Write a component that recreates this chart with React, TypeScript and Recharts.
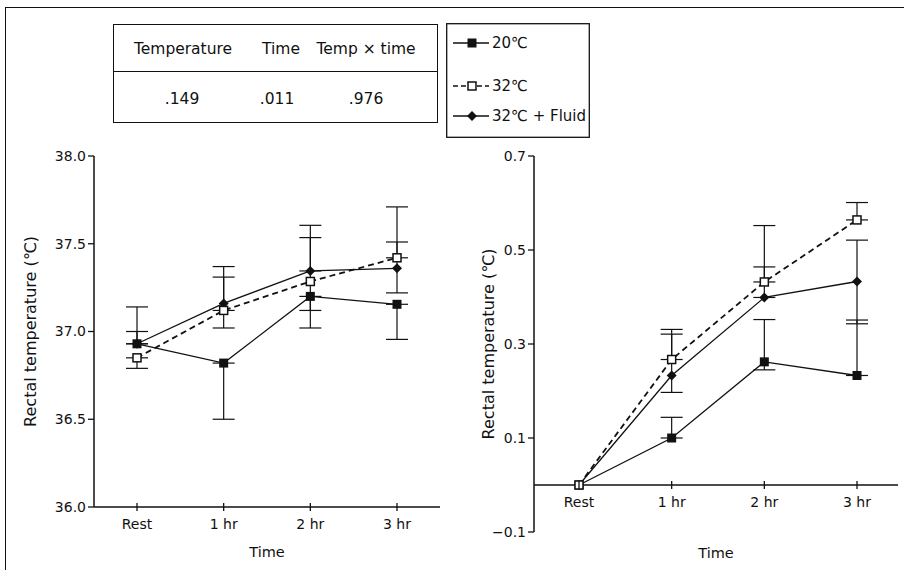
import React from "react";
import { LineChart, Line, XAxis, YAxis, ErrorBar, ReferenceLine } from "recharts";

const times = ["Rest", "1 hr", "2 hr", "3 hr"];

// left panel: rectal temperature (℃), with [down, up] error per point
const abs20 = [36.93, 36.82, 37.2, 37.155];
const abs20Err = [[0, 0.07], [0.32, 0], [0.18, 0], [0.2, 0]];
const abs32 = [36.85, 37.12, 37.285, 37.42];
const abs32Err = [[0.06, 0], [0, 0.19], [0.165, 0.25], [0, 0.29]];
const absFluid = [36.93, 37.16, 37.345, 37.36];
const absFluidErr = [[0, 0.21], [0.14, 0.21], [0, 0.26], [0.14, 0.15]];
const absTicks = [36.0, 36.5, 37.0, 37.5, 38.0];

// right panel: change in rectal temperature (℃)
const d20 = [0, 0.1, 0.262, 0.233];
const d20Err = [null, [0, 0.044], [0.017, 0.09], [0, 0.118]];
const d32 = [0, 0.267, 0.432, 0.564];
const d32Err = [null, [0, 0.064], [0, 0.12], [0, 0.037]];
const dFluid = [0, 0.233, 0.399, 0.433];
const dFluidErr = [null, [0.036, 0.088], [0, 0.065], [0.09, 0.088]];
const dTicks = [-0.1, 0.1, 0.3, 0.5, 0.7];

// ANOVA p values shown in the top table
const pHeaders = ["Temperature", "Time", "Temp \u00d7 time"];
const pValues = [".149", ".011", ".976"];

const seriesNames = ["20\u2103", "32\u2103", "32\u2103 + Fluid"];

const FONT = "'DejaVu Sans', sans-serif";
const INK = "#111";

const absRows = times.map((t, i) => ({
  time: t,
  s20: abs20[i], e20: abs20Err[i],
  s32: abs32[i], e32: abs32Err[i],
  sF: absFluid[i], eF: absFluidErr[i],
}));

const dRows = times.map((t, i) => ({
  time: t,
  s20: d20[i], e20: d20Err[i],
  s32: d32[i], e32: d32Err[i],
  sF: dFluid[i], eF: dFluidErr[i],
}));

function FilledSquare(p: any) {
  if (p.cx == null || p.cy == null) return <g key={p.key} />;
  return <rect key={p.key} x={p.cx - 4.5} y={p.cy - 4.5} width={9} height={9} fill={INK} />;
}

function OpenSquare(p: any) {
  if (p.cx == null || p.cy == null) return <g key={p.key} />;
  return (
    <rect key={p.key} x={p.cx - 4} y={p.cy - 4} width={8} height={8} fill="#fff" stroke={INK} strokeWidth={1.5} />
  );
}

function Diamond(p: any) {
  if (p.cx == null || p.cy == null) return <g key={p.key} />;
  const { cx, cy } = p;
  return (
    <polygon key={p.key} points={`${cx},${cy - 5} ${cx + 5},${cy} ${cx},${cy + 5} ${cx - 5},${cy}`} fill={INK} />
  );
}

// x tick drawn as a small cross mark on the axis line, label below it
function makeTick(shift: number) {
  return (p: any) => {
    const y0 = p.y - shift;
    return (
      <g>
        <line x1={p.x} x2={p.x} y1={y0 - 4} y2={y0 + 4} stroke={INK} strokeWidth={1.3} />
        <text x={p.x} y={y0 + 17} textAnchor="middle" dominantBaseline="central" fontSize={14} fill={INK} fontFamily={FONT}>
          {p.payload.value}
        </text>
      </g>
    );
  };
}

function yLabel(dx: number) {
  return (p: any) => {
    const vb = p.viewBox;
    const x = vb.x + dx;
    const y = vb.y + vb.height / 2;
    return (
      <text x={x} y={y} transform={`rotate(-90 ${x} ${y})`} textAnchor="middle" dominantBaseline="central" fontSize={16} fill={INK} fontFamily={FONT}>
        Rectal temperature (℃)
      </text>
    );
  };
}

const tickStyle = { fontSize: 14, fill: INK, fontFamily: FONT };
const timeLabelStyle = { fontSize: 14.5, fill: INK, fontFamily: FONT };

const D_PLOT_H = 376;
const D_MIN = -0.1;
const D_MAX = 0.7;

export default function App() {
  const zeroShift = (D_PLOT_H * (0 - D_MIN)) / (D_MAX - D_MIN);
  const lines = [
    { key: "sF", err: "eF", dash: undefined, w: 1.3, dot: Diamond },
    { key: "s20", err: "e20", dash: undefined, w: 1.3, dot: FilledSquare },
    { key: "s32", err: "e32", dash: "6 4", w: 1.8, dot: OpenSquare },
  ];
  const renderLines = () =>
    lines.map((l) => (
      <Line
        key={l.key}
        type="linear"
        dataKey={l.key}
        stroke={INK}
        strokeWidth={l.w}
        strokeDasharray={l.dash}
        dot={l.dot}
        activeDot={false}
        isAnimationActive={false}
      >
        <ErrorBar dataKey={l.err} width={11} stroke={INK} strokeWidth={1.2} direction="y" isAnimationActive={false} />
      </Line>
    ));

  return (
    <div style={{ position: "absolute", left: 0, top: 0, width: 904, height: 570, background: "#fff", fontFamily: FONT, color: INK, overflow: "hidden" }}>
      <div style={{ position: "absolute", left: 5, top: 7, width: 899, height: 0, borderTop: `1.5px solid ${INK}` }} />
      <div style={{ position: "absolute", left: 5, top: 7, width: 0, height: 563, borderLeft: `1.5px solid ${INK}` }} />

      {/* p-value table */}
      <div style={{ position: "absolute", left: 113, top: 24, width: 323, height: 97, border: `1.3px solid ${INK}` }}>
        <div style={{ position: "absolute", left: 0, top: 46, width: 323, borderTop: `1.3px solid ${INK}` }} />
        {pHeaders.map((h, i) => (
          <span key={h} style={{ position: "absolute", left: [69, 167, 252][i], top: 24, transform: "translate(-50%,-50%)", fontSize: 15.5, whiteSpace: "nowrap" }}>
            {h}
          </span>
        ))}
        {pValues.map((v, i) => (
          <span key={v} style={{ position: "absolute", left: [68, 163, 252][i], top: 74, transform: "translate(-50%,-50%)", fontSize: 15.5 }}>
            {v}
          </span>
        ))}
      </div>

      {/* legend */}
      <svg style={{ position: "absolute", left: 446, top: 23 }} width={144} height={115}>
        <rect x={0.7} y={0.7} width={142.6} height={113.6} fill="none" stroke={INK} strokeWidth={1.3} />
        {seriesNames.map((n, i) => {
          const y = [20, 63, 93][i];
          const dots = [FilledSquare, OpenSquare, Diamond];
          const D = dots[i];
          return (
            <g key={n}>
              <line x1={7} x2={43} y1={y} y2={y} stroke={INK} strokeWidth={i === 1 ? 1.6 : 1.3} strokeDasharray={i === 1 ? "5 3" : undefined} />
              <D cx={26} cy={y} />
              <text x={46} y={y} dominantBaseline="central" fontSize={15} fill={INK} fontFamily={FONT}>
                {n}
              </text>
            </g>
          );
        })}
      </svg>

      {/* left panel */}
      <div style={{ position: "absolute", left: 0, top: 0 }}>
        <LineChart width={460} height={570} data={absRows} margin={{ top: 156, right: 20, bottom: 8, left: 34 }}>
          <XAxis
            dataKey="time"
            height={55}
            interval={0}
            padding={{ left: 43, right: 43 }}
            tickSize={0}
            tickMargin={0}
            tickLine={false}
            axisLine={{ stroke: INK, strokeWidth: 1.5 }}
            tick={makeTick(0)}
            label={{ value: "Time", position: "insideBottom", offset: 5, style: timeLabelStyle }}
          />
          <YAxis
            type="number"
            domain={[36, 38]}
            ticks={absTicks}
            width={60}
            tick={tickStyle}
            tickFormatter={(v: number) => v.toFixed(1)}
            axisLine={{ stroke: INK, strokeWidth: 1.5 }}
            tickLine={{ stroke: INK, strokeWidth: 1.3 }}
            label={{ content: yLabel(-4) }}
          />
          {renderLines()}
        </LineChart>
      </div>

      {/* right panel */}
      <div style={{ position: "absolute", left: 450, top: 0 }}>
        <LineChart width={454} height={570} data={dRows} margin={{ top: 156, right: 6, bottom: 8, left: 34 }}>
          <XAxis
            dataKey="time"
            height={30}
            interval={0}
            padding={{ left: 45, right: 41 }}
            tickSize={0}
            tickMargin={0}
            tickLine={false}
            axisLine={false}
            tick={makeTick(zeroShift)}
            label={{ value: "Time", position: "insideBottom", offset: 4, style: timeLabelStyle }}
          />
          <YAxis
            type="number"
            domain={[D_MIN, D_MAX]}
            ticks={dTicks}
            width={50}
            tick={tickStyle}
            tickFormatter={(v: number) => v.toFixed(1).replace("-", "\u2212")}
            axisLine={{ stroke: INK, strokeWidth: 1.5 }}
            tickLine={{ stroke: INK, strokeWidth: 1.3 }}
            label={{ content: yLabel(4) }}
          />
          <ReferenceLine y={0} stroke={INK} strokeWidth={1.5} />
          {renderLines()}
        </LineChart>
      </div>
    </div>
  );
}
